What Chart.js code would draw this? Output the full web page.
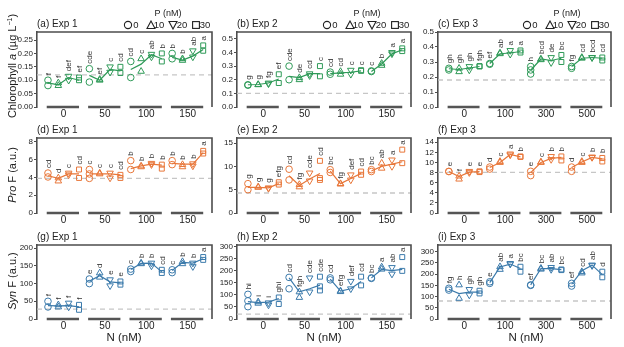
<!DOCTYPE html>
<html>
<head>
<meta charset="utf-8">
<script src="https://cdn.jsdelivr.net/npm/chart.js@4.4.1/dist/chart.umd.min.js"></script>
<style>
  html, body { margin: 0; padding: 0; background: #fff; }
  body { width: 624px; height: 347px; position: relative; overflow: hidden;
         font-family: "Liberation Sans", Arial, sans-serif; color: #222; }
  canvas { position: absolute; }
  .txt { position: absolute; white-space: nowrap; line-height: 1; }
  .ctr { transform: translate(-50%, -50%); }
  .sym { position: absolute; line-height: 0; width: 10px; height: 10px; }
  .sym svg { display: block; }
  .ytitle { position: absolute; white-space: nowrap; font-size: 11px; line-height: 1;
            transform: translate(-50%, -50%) rotate(-90deg); }
</style>
</head>
<body>
<script>
// ── DATA ──────────────────────────────────────────────────
const pLevels = ['0', '10', '20', '30'];
const nLabels12 = ['0', '50', '100', '150'];
const nLabels3  = ['0', '100', '300', '500'];

// replicates per treatment (N group x P level)
const chlExp1Reps = [[0.10,0.08],[0.09,0.08],[0.10,0.115],[0.10,0.11],
  [0.143,0.093],[0.103,0.10],[0.13,0.15],[0.15,0.127],
  [0.17,0.11],[0.133,0.18],[0.197,0.187],[0.20,0.17],
  [0.20,0.18],[0.174,0.18],[0.187,0.21],[0.23,0.21]];
const chlExp1Means = [0.09,0.083,0.11,0.10, 0.118,0.10,0.14,0.135, 0.14,0.16,0.195,0.18, 0.185,0.175,0.19,0.215];
const chlExp1Letters = ['f','f','def','ef','cde','ef','c','cd','cd','c','ab','b','b','b','ab','a'];

const chlExp2Reps = [[0.163,0.16],[0.163,0.165],[0.176,0.17],[0.24,0.176],
  [0.30,0.20],[0.215,0.20],[0.244,0.23],[0.30,0.225],
  [0.256,0.24],[0.26,0.24],[0.24,0.27],[0.27,0.265],
  [0.26,0.265],[0.32,0.305],[0.39,0.40],[0.43,0.41]];
const chlExp2Means = [0.163,0.165,0.176,0.205, 0.225,0.215,0.245,0.245, 0.245,0.25,0.255,0.265, 0.26,0.315,0.39,0.42];
const chlExp2Letters = ['g','g','fg','ef','cde','de','cd','c','cd','cd','c','c','c','b','a','a'];

const chlExp3Reps = [[0.258,0.247],[0.258,0.235],[0.247,0.27],[0.273,0.27],
  [0.29,0.285],[0.36,0.355],[0.352,0.377],[0.377,0.363],
  [0.22,0.247,0.27],[0.32,0.315],[0.296,0.33],[0.347,0.30],
  [0.27,0.258],[0.33,0.325],[0.33,0.33],[0.33,0.31]];
const chlExp3Means = [0.255,0.25,0.26,0.27, 0.29,0.355,0.36,0.37, 0.245,0.32,0.31,0.325, 0.27,0.325,0.33,0.325];
const chlExp3Letters = ['gh','gh','gh','fgh','ef','ab','a','a','h','bcd','de','bc','fg','cd','bcd','cd'];

const proExp1Reps = [[4.5,4.06],[3.95,3.6],[4.3,4.5],[4.9,3.95],
  [4.9,4.4,3.9],[4.4,4.5],[4.5,3.95],[4.3,3.95],
  [5.9,4.9],[5.3,5.2],[5.45,5.6],[5.45,5.0],
  [5.9,5.45],[5.45,5.2],[5.55,5.3],[7.0,6.7]];
const proExp1Means = [4.2,3.9,4.4,4.4, 4.4,4.4,4.4,4.3, 5.0,5.3,5.5,5.4, 5.6,5.5,5.5,6.8];
const proExp1Letters = ['cd','d','c','cd','c','c','c','cd','b','b','b','b','b','b','b','a'];

const proExp2Reps = [[6.3,5.0],[5.6,5.5],[5.4,5.3],[6.6,6.1],
  [9.4,7.1],[6.1,5.6],[8.6,6.9],[11.2,7.5,7.1],
  [9.3,8.7],[6.3,6.2],[8.2,7.1],[8.9,8.2],
  [9.3,8.9],[10.7,9.6],[11.4,10.0],[13.6,10.7]];
const proExp2Means = [5.5,5.5,5.4,6.3, 8.0,5.9,7.3,8.5, 9.0,6.3,7.4,8.5, 9.0,10.0,10.5,11.0];
const proExp2Letters = ['g','g','g','efg','cd','fg','cde','cd','bc','fg','def','cd','bc','ab','a','a'];

const proExp3Reps = [[8.25,8.2],[7.3,6.7],[8.25,8.0],[8.25,8.1],
  [9.1,8.7],[10.0,10.2],[11.7,11.5],[11.1,11.2],
  [8.25,7.4],[10.0,10.1],[10.6,11.2],[11.2,10.4],
  [9.1,8.25],[10.0,10.2],[11.1,11.0],[10.9,10.2]];
const proExp3Means = [8.2,7.2,8.1,8.2, 9.0,10.0,11.6,11.1, 8.0,10.0,10.8,11.0, 9.0,10.1,11.0,10.7];
const proExp3Letters = ['e','f','e','e','d','c','a','b','e','c','b','b','d','c','b','b'];

const synExp1Reps = [[50,34],[34,40],[34,45],[40,26],
  [113,100],[130,118],[111,94],[106,97],
  [141,134],[158,156],[158,150],[139,130],
  [139,131],[162,156],[158,148],[175,167]];
const synExp1Means = [38,37,38,34, 107,122,105,102, 140,157,158,133, 137,160,158,170];
const synExp1Letters = ['f','f','f','f','e','d','e','e','c','b','b','cd','c','b','b','a'];

const synExp2Reps = [[102,75,51],[71,65],[67,58],[89,62],
  [172,125],[112,89],[170,112],[175,135,118],
  [170,162],[116,113],[156,125],[175,139],
  [170,168],[215,206],[213,186],[256,199]];
const synExp2Means = [72,68,70,85, 170,112,125,140, 165,115,125,155, 170,205,200,205];
const synExp2Letters = ['hi','i','i','ghi','cd','fgh','cde','cde','cd','efg','def','cd','bc','a','ab','a'];

const synExp3Reps = [[137,129],[152,92],[132,107],[126,114],
  [166,159],[233,221],[248,245],[233,211],
  [152,150],[226,222],[221,230],[221,218],
  [159,147],[211,205],[241,238],[211,186]];
const synExp3Means = [133,113,120,120, 162,232,245,225, 152,225,225,220, 155,215,240,198];
const synExp3Letters = ['fg','h','gh','gh','e','ab','a','bc','ef','bc','ab','bc','ef','cd','ab','d'];

// control (initial) levels, dashed lines
const baselines = [0.12, 0.10, 0.18, 3.9, 4.3, 8.05, 28, 20, 80];

// y tick values
const yTicksChl1 = [0, 0.05, 0.10, 0.15, 0.20, 0.25];
const yTicksChl23 = [0, 0.1, 0.2, 0.3, 0.4, 0.5];
const yTicksPro1 = [0, 2, 4, 6, 8];
const yTicksPro2 = [0, 5, 10, 15];
const yTicksPro3 = [0, 2, 4, 6, 8, 10, 12, 14];
const yTicksSyn1 = [0, 50, 100, 150, 200];
const yTicksSyn23 = [0, 50, 100, 150, 200, 250, 300];

// ── LAYOUT / STYLE ────────────────────────────────────────
const colL = [37, 237, 438];
const colR = [213, 412, 612];
const rowT = [32, 138, 245];
const rowB = [107, 213, 319];
const rowColor = ['#2f9a58', '#e8773a', '#3b7aab'];
const frameColor = '#4d4d4d';
const FONT = '"Liberation Sans", Arial, sans-serif';

const panels = [
  { title: '(a) Exp 1', row: 0, col: 0, reps: chlExp1Reps, means: chlExp1Means, letters: chlExp1Letters, yMax: 0.28, yTicks: yTicksChl1, dec: 2, nLab: nLabels12 },
  { title: '(b) Exp 2', row: 0, col: 1, reps: chlExp2Reps, means: chlExp2Means, letters: chlExp2Letters, yMax: 0.55, yTicks: yTicksChl23, dec: 1, nLab: nLabels12 },
  { title: '(c) Exp 3', row: 0, col: 2, reps: chlExp3Reps, means: chlExp3Means, letters: chlExp3Letters, yMax: 0.5, yTicks: yTicksChl23, dec: 1, nLab: nLabels3 },
  { title: '(d) Exp 1', row: 1, col: 0, reps: proExp1Reps, means: proExp1Means, letters: proExp1Letters, yMax: 8.45, yTicks: yTicksPro1, dec: 0, nLab: nLabels12 },
  { title: '(e) Exp 2', row: 1, col: 1, reps: proExp2Reps, means: proExp2Means, letters: proExp2Letters, yMax: 16.1, yTicks: yTicksPro2, dec: 0, nLab: nLabels12 },
  { title: '(f) Exp 3', row: 1, col: 2, reps: proExp3Reps, means: proExp3Means, letters: proExp3Letters, yMax: 14.85, yTicks: yTicksPro3, dec: 0, nLab: nLabels3 },
  { title: '(g) Exp 1', row: 2, col: 0, reps: synExp1Reps, means: synExp1Means, letters: synExp1Letters, yMax: 209, yTicks: yTicksSyn1, dec: 0, nLab: nLabels12 },
  { title: '(h) Exp 2', row: 2, col: 1, reps: synExp2Reps, means: synExp2Means, letters: synExp2Letters, yMax: 306, yTicks: yTicksSyn23, dec: 0, nLab: nLabels12 },
  { title: '(i) Exp 3', row: 2, col: 2, reps: synExp3Reps, means: synExp3Means, letters: synExp3Letters, yMax: 330, yTicks: yTicksSyn23, dec: 0, nLab: nLabels3 },
];

const X_MIN = -1.06, X_MAX = 15.85;
const markerStyles = [
  { pointStyle: 'circle', rotation: 0, r: 3.3 },
  { pointStyle: 'triangle', rotation: 0, r: 3.8 },
  { pointStyle: 'triangle', rotation: 180, r: 3.8 },
  { pointStyle: 'rect', rotation: 0, r: 3.5 },
];

// small outline glyphs for the P legend
const legendSvg = [
  '<circle cx="5" cy="5" r="3.6" />',
  '<polygon points="5,1 9,8.5 1,8.5" />',
  '<polygon points="1,1.5 9,1.5 5,9" />',
  '<rect x="1.6" y="1.6" width="6.8" height="6.8" />',
];

function addText(html, x, y, size, cls) {
  const d = document.createElement('div');
  d.className = 'txt ' + (cls || '');
  d.style.left = x + 'px';
  d.style.top = y + 'px';
  d.style.fontSize = size + 'px';
  d.innerHTML = html;
  document.body.appendChild(d);
  return d;
}

function addSymbol(j, cx, cy) {
  const d = document.createElement('div');
  d.className = 'sym';
  d.style.left = (cx - 5) + 'px';
  d.style.top = (cy - 5) + 'px';
  d.innerHTML = '<svg width="10" height="10" viewBox="0 0 10 10" fill="none" stroke="#222" stroke-width="1.1">' + legendSvg[j] + '</svg>';
  document.body.appendChild(d);
}

// frame (top + right) and the significance letters
const framePlugin = {
  id: 'frame',
  afterDatasetsDraw(chart, args, opts) {
    const { ctx, chartArea: a, scales } = chart;
    ctx.save();
    ctx.strokeStyle = frameColor;
    ctx.lineWidth = 1.6;
    ctx.beginPath();
    ctx.moveTo(a.left, a.top);
    ctx.lineTo(a.right, a.top);
    ctx.lineTo(a.right, a.bottom);
    ctx.stroke();

    const p = opts.panel;
    ctx.fillStyle = '#333';
    ctx.font = '8px ' + FONT;
    ctx.textAlign = 'left';
    ctx.textBaseline = 'middle';
    p.letters.forEach((lab, i) => {
      const top = Math.max(...p.reps[i]);
      const x = scales.x.getPixelForValue(i);
      const y = scales.y.getPixelForValue(top) - 5;
      ctx.save();
      ctx.translate(x + 0.5, y);
      ctx.rotate(-Math.PI / 2);
      ctx.fillText(lab, 0, 0);
      ctx.restore();
    });
    ctx.restore();
  }
};

panels.forEach((p, k) => {
  const L = colL[p.col], R = colR[p.col], T = rowT[p.row], B = rowB[p.row];
  const color = rowColor[p.row];

  const cv = document.createElement('canvas');
  const w = R - L + 40, h = B - T + 26;
  cv.width = w; cv.height = h;
  cv.style.left = (L - 36) + 'px';
  cv.style.top = (T - 6) + 'px';
  cv.style.width = w + 'px';
  cv.style.height = h + 'px';
  document.body.appendChild(cv);

  const datasets = [];
  // replicate points, one dataset per P level
  pLevels.forEach((pl, j) => {
    const pts = [];
    for (let g = 0; g < 4; g++) {
      const i = g * 4 + j;
      p.reps[i].forEach(v => pts.push({ x: i, y: v }));
    }
    const m = markerStyles[j];
    datasets.push({
      label: 'P ' + pl, data: pts, order: 0,
      pointStyle: m.pointStyle, rotation: m.rotation, pointRadius: m.r,
      borderColor: color, backgroundColor: 'rgba(255,255,255,0)', borderWidth: 1,
    });
  });
  // mean lines, one per N group
  for (let g = 0; g < 4; g++) {
    datasets.push({
      data: [0, 1, 2, 3].map(j => ({ x: g * 4 + j, y: p.means[g * 4 + j] })),
      showLine: true, pointRadius: 0, borderColor: color, borderWidth: 1.2, order: 1,
    });
    // N group bar under the axis
    datasets.push({
      data: [{ x: g * 4 - 0.12, y: 0 }, { x: g * 4 + 3.0, y: 0 }],
      showLine: true, pointRadius: 0, borderColor: '#555', borderWidth: 2.4,
      clip: false, order: 2,
    });
  }
  // dashed control level
  datasets.push({
    data: [{ x: X_MIN, y: baselines[k] }, { x: X_MAX, y: baselines[k] }],
    showLine: true, pointRadius: 0, borderColor: '#c6c6c6', borderWidth: 1.4,
    borderDash: [5, 4], order: 3,
  });

  new Chart(cv, {
    type: 'scatter',
    data: { datasets },
    plugins: [framePlugin],
    options: {
      responsive: false,
      animation: false,
      events: [],
      layout: { padding: { top: 6, right: 4, left: 0, bottom: 0 } },
      plugins: { legend: { display: false }, tooltip: { enabled: false }, frame: { panel: p } },
      scales: {
        x: {
          type: 'linear', min: X_MIN, max: X_MAX,
          afterBuildTicks: ax => { ax.ticks = [1.5, 5.5, 9.5, 13.5].map(v => ({ value: v })); },
          afterFit: ax => { ax.height = 20; },
          grid: { display: false, drawTicks: false },
          border: { display: false },
          ticks: {
            padding: 1, maxRotation: 0, autoSkip: false, color: '#222',
            font: { family: FONT, size: 10 },
            callback: (v, i) => p.nLab[i],
          },
        },
        y: {
          min: 0, max: p.yMax,
          afterBuildTicks: ax => { ax.ticks = p.yTicks.map(v => ({ value: v })); },
          afterFit: ax => { ax.width = 36; },
          grid: { display: true, drawOnChartArea: false, drawTicks: true, tickLength: 3, color: frameColor, lineWidth: 1 },
          border: { display: true, color: frameColor, width: 1.6 },
          ticks: {
            padding: 1, autoSkip: false, color: '#222', font: { family: FONT, size: 8 },
            callback: v => v.toFixed(p.dec),
          },
        },
      },
    },
  });

  // panel title
  addText(p.title, L, T - 13, 10);

  // P legend on the top row
  if (p.row === 0) {
    addText('P (nM)', R - 45, 13, 9, 'ctr');
    const symX = [-85, -62, -40, -17];
    const labX = [-77, -54, -31, -8];
    pLevels.forEach((pl, j) => {
      addSymbol(j, R + symX[j], 25);
      addText(pl, R + labX[j], 25, 9.5, 'ctr');
    });
  }
});

// axis titles
const yTitles = ['Chlorophyll <i>a</i> (&micro;g L<sup style="font-size:7px">&minus;1</sup>)', '<i>Pro</i> F (a.u.)', '<i>Syn</i> F (a.u.)'];
const yTitleY = [66, 175, 281];
yTitles.forEach((t, r) => {
  const d = document.createElement('div');
  d.className = 'ytitle';
  d.style.left = '12px';
  d.style.top = yTitleY[r] + 'px';
  d.innerHTML = t;
  document.body.appendChild(d);
});
[124, 324, 526].forEach(x => addText('N (nM)', x, 338, 11.5, 'ctr'));
</script>
</body>
</html>
